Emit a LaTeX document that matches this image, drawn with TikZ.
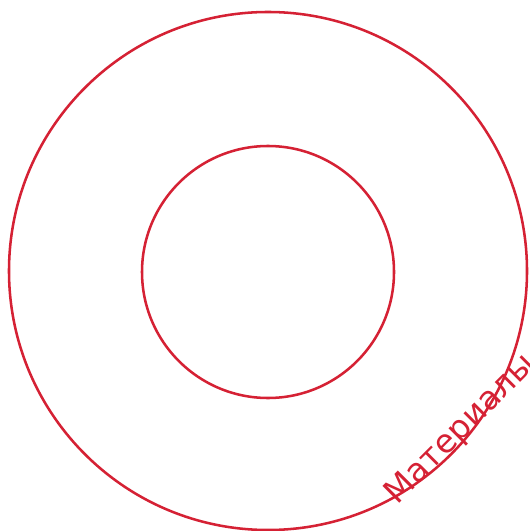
\documentclass[tikz,border=0pt]{standalone}
\usepackage{fontspec}
\setmainfont{DejaVu Sans}
\definecolor{ringred}{RGB}{213,33,52}
\begin{document}
\begin{tikzpicture}[x=0.75pt, y=-0.75pt]
  % Frame
  \useasboundingbox (0, 0) rectangle (530, 531);
  \clip (0, 0) rectangle (530, 531);

  % Rings
  \coordinate (centre) at (268, 271);
  \draw[ringred, line width=1.9pt] (centre) circle (259);
  \draw[ringred, line width=1.9pt] (268, 272) circle (126);

  % Label
  \node[ringred, rotate=45, anchor=center, inner sep=0pt, font=\fontsize{24.5}{28}\selectfont] (label) at (461, 430) {Материалы};
\end{tikzpicture}
\end{document}
